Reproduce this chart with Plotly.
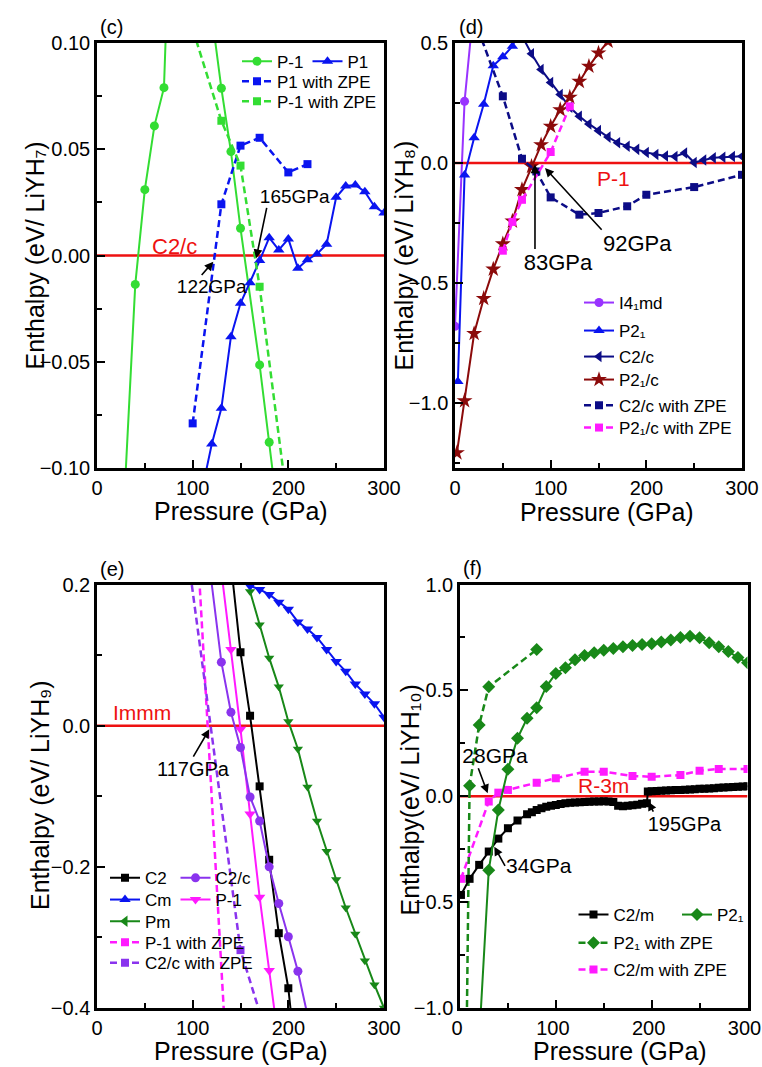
import plotly.graph_objects as go

W, H = 762, 1067
FONT = "Liberation Sans, Arial, sans-serif"

# ---------------- data: (c) LiYH7, enthalpy relative to C2/c ----------------
c_ref_p = [0, 300]
c_ref_h = [0, 0]
c_pm1a_p = [20, 40, 50, 60, 70, 80]
c_pm1a_h = [-0.19, -0.0136, 0.031, 0.061, 0.079, 0.21]
c_pm1b_p = [120, 130, 140, 150, 170, 180, 190]
c_pm1b_h = [0.113, 0.0787, 0.0489, 0.0128, -0.0515, -0.0879, -0.125]
c_p1_p = [110, 120, 130, 140, 150, 160, 170, 180, 190, 200, 210, 220, 230, 240, 250, 260, 270, 280, 290, 300]
c_p1_h = [-0.11, -0.0887, -0.0719, -0.0382, -0.0225, -0.0128, -0.0024, 0.0084, 0.0026, 0.0078,
          -0.006, -0.002, 0.0007, 0.0053, 0.0274, 0.0327, 0.0332, 0.030, 0.023, 0.02]
c_p1zpe_p = [100, 130, 150, 170, 200, 220]
c_p1zpe_h = [-0.079, 0.0241, 0.0517, 0.0554, 0.0391, 0.043]
c_pm1zpe_p = [90, 130, 150, 170, 200]
c_pm1zpe_h = [0.121, 0.0634, 0.0423, -0.0147, -0.12]

# ---------------- data: (d) LiYH8, relative to P-1 ----------------
d_ref_p = [0, 300]
d_ref_h = [0, 0]
d_i41_p = [0, 10, 20]
d_i41_h = [-0.68, 0.257, 0.67]
d_p21_p = [3, 10, 20, 30, 40, 50, 60, 70]
d_p21_h = [-0.91, -0.05, 0.105, 0.245, 0.405, 0.443, 0.486, 0.58]
d_c2c_p = [70, 80, 90, 100, 110, 120, 130, 140, 150, 160, 170, 180, 190, 200, 210, 220, 230, 240,
           250, 260, 270, 280, 290, 300]
d_c2c_h = [0.53, 0.455, 0.39, 0.335, 0.285, 0.232, 0.195, 0.163, 0.135, 0.108, 0.085, 0.07, 0.057,
           0.044, 0.036, 0.029, 0.027, 0.042, 0.002, 0.013, 0.022, 0.024, 0.027, 0.028]
d_p21c_p = [2, 10, 20, 30, 40, 50, 60, 70, 80, 90, 100, 110, 120, 130, 140, 150, 160]
d_p21c_h = [-1.207, -0.99, -0.71, -0.564, -0.442, -0.337, -0.242, -0.111, -0.014, 0.076, 0.153,
            0.222, 0.274, 0.34, 0.403, 0.458, 0.507]
d_c2czpe_p = [20, 50, 70, 85, 100, 130, 150, 180, 200, 250, 300]
d_c2czpe_h = [0.6, 0.278, 0.018, -0.035, -0.143, -0.215, -0.208, -0.18, -0.132, -0.1, -0.049]
d_p21czpe_p = [50, 60, 70, 100, 120]
d_p21czpe_h = [-0.365, -0.245, -0.153, 0.046, 0.236]

# ---------------- data: (e) LiYH9, relative to Immm ----------------
e_ref_p = [0, 300]
e_ref_h = [0, 0]
e_c2_p = [140, 150, 160, 170, 180, 190, 200, 210]
e_c2_h = [0.23, 0.104, 0.014, -0.086, -0.19, -0.294, -0.372, -0.5]
e_c2c_p = [110, 130, 140, 150, 160, 170, 180, 190, 200, 210, 220]
e_c2c_h = [0.31, 0.09, 0.019, -0.031, -0.101, -0.135, -0.2, -0.252, -0.299, -0.348, -0.41]
e_cm_p = [160, 170, 180, 190, 200, 210, 220, 230, 240, 250, 260, 270, 280, 290, 300]
e_cm_h = [0.198, 0.193, 0.186, 0.175, 0.165, 0.147, 0.137, 0.125, 0.108, 0.091, 0.077, 0.059,
          0.045, 0.031, 0.012]
e_pm1_p = [120, 140, 150, 160, 170, 180, 190]
e_pm1_h = [0.33, 0.108, -0.005, -0.125, -0.243, -0.347, -0.45]
e_pm_p = [160, 170, 180, 190, 200, 210, 220, 230, 240, 250, 260, 270, 280, 290, 300]
e_pm_h = [0.19, 0.143, 0.096, 0.055, 0.006, -0.033, -0.087, -0.135, -0.178, -0.218, -0.258,
          -0.295, -0.333, -0.367, -0.40]
e_pm1zpe_p = [101, 134.5]
e_pm1zpe_h = [0.35, -0.45]
e_c2czpe_p = [90, 150, 180]
e_c2czpe_h = [0.292, -0.318, -0.45]

# ---------------- data: (f) LiYH10, relative to R-3m ----------------
f_ref_p = [0, 300]
f_ref_h = [0, 0]
f_c2m_p = [1, 10, 20, 30, 40, 50, 60, 70, 75, 80, 85, 90, 95, 100, 105, 110, 115, 120, 125, 130,
           135, 140, 145, 150, 155, 160, 165, 170, 175, 180, 185, 190, 195,
           196, 200, 205, 210, 215, 220, 225, 230, 235, 240, 245, 250, 255, 260, 265, 270, 275,
           280, 285, 290, 295, 300]
f_c2m_h = [-0.466, -0.39, -0.324, -0.261, -0.2, -0.151, -0.115, -0.085, -0.075, -0.065, -0.057,
           -0.05, -0.045, -0.041, -0.037, -0.033, -0.031, -0.03, -0.028, -0.027, -0.026, -0.025,
           -0.025, -0.024, -0.025, -0.027, -0.045, -0.047, -0.045, -0.043, -0.04, -0.036, -0.033,
           0.022, 0.024, 0.025, 0.026, 0.027, 0.028, 0.029, 0.030, 0.031, 0.032, 0.033, 0.035,
           0.036, 0.037, 0.038, 0.040, 0.041, 0.043, 0.044, 0.045, 0.046, 0.047]
f_p21_p = [20, 30, 40, 50, 60, 70, 80, 90, 100, 110, 120, 130, 140, 150, 160, 170, 180, 190, 200,
           210, 220, 230, 240, 250, 260, 270, 280, 290, 300]
f_p21_h = [-1.15, -0.35, -0.065, 0.128, 0.274, 0.368, 0.418, 0.518, 0.58, 0.607, 0.645, 0.665,
           0.678, 0.69, 0.698, 0.706, 0.712, 0.717, 0.72, 0.728, 0.738, 0.75, 0.756, 0.748, 0.725,
           0.706, 0.684, 0.655, 0.63]
f_p21zpe_p = [0, 10, 20, 30, 80]
f_p21zpe_h = [-3.8, 0.05, 0.336, 0.517, 0.693]
f_c2mzpe_p = [1, 30, 40, 50, 80, 100, 130, 150, 180, 200, 230, 250, 270, 300]
f_c2mzpe_h = [-0.39, -0.025, 0.017, 0.03, 0.064, 0.085, 0.116, 0.116, 0.096, 0.092, 0.1, 0.121,
              0.129, 0.129]

# ---------------- colours ----------------
GREEN_L = "#33dd33"
BLUE = "#0a14f0"
RED = "#ee1111"
VIOLET = "#9933ff"
NAVY = "#0c0c86"
DRED = "#8b0a0a"
MAGENTA = "#ff1aff"
PURPLE = "#8a33ee"
DGREEN = "#188818"
DASH = "7px,4px"

fig = go.Figure()
legends = {}
_leg_count = [0]


def new_legend(px, py, size=17):
    _leg_count[0] += 1
    key = "legend" if _leg_count[0] == 1 else "legend%d" % _leg_count[0]
    legends[key] = dict(x=(px - 20) / W, y=1 - py / H, xanchor="left", yanchor="middle",
                        bgcolor="rgba(0,0,0,0)", borderwidth=0, itemwidth=30,
                        font=dict(family=FONT, size=size, color="black"),
                        itemclick=False, itemdoubleclick=False)
    return key


def add(x, y, color, symbol, size, axes, name=None, dash="solid", lw=2, leg=None,
        mode="lines+markers"):
    fig.add_trace(go.Scatter(
        x=x, y=y, mode=mode, name=name or "",
        line=dict(color=color, width=lw, dash=dash),
        marker=dict(symbol=symbol, size=size, color=color, line=dict(width=0)),
        xaxis=axes[0], yaxis=axes[1],
        showlegend=leg is not None, legend=leg if leg else "legend"))


def add_ref(x, y, axes):
    fig.add_trace(go.Scatter(x=x, y=y, mode="lines", line=dict(color=RED, width=2.5),
                             xaxis=axes[0], yaxis=axes[1], showlegend=False, hoverinfo="skip"))


def legend_only(color, symbol, size, name, leg, dash="solid", lw=2):
    fig.add_trace(go.Scatter(x=[None], y=[None], mode="lines+markers", name=name,
                             line=dict(color=color, width=lw, dash=dash),
                             marker=dict(symbol=symbol, size=size, color=color),
                             xaxis="x", yaxis="y", legend=leg, showlegend=True))


# ---- (c)
AC = ("x", "y")
add_ref(c_ref_p, c_ref_h, AC)
add(c_pm1a_p, c_pm1a_h, GREEN_L, "circle", 9, AC, "P-1", leg=new_legend(257, 61.7))
add(c_pm1b_p, c_pm1b_h, GREEN_L, "circle", 9, AC)
add(c_p1_p, c_p1_h, BLUE, "triangle-up", 10, AC, "P1", leg=new_legend(327.5, 61.7))
add(c_p1zpe_p, c_p1zpe_h, BLUE, "square", 8, AC, "P1 with ZPE", dash=DASH, lw=2.5,
    leg=new_legend(257, 81.7))
add(c_pm1zpe_p, c_pm1zpe_h, GREEN_L, "square", 8, AC, "P-1 with ZPE", dash=DASH, lw=2.5,
    leg=new_legend(257, 101.7))

# ---- (d)
AD = ("x2", "y2")
add_ref(d_ref_p, d_ref_h, AD)
add(d_i41_p, d_i41_h, VIOLET, "circle", 9, AD, "I4₁md", leg=new_legend(599, 303))
add(d_p21_p, d_p21_h, BLUE, "triangle-up", 10, AD, "P2₁", leg=new_legend(599, 331))
add(d_c2c_p, d_c2c_h, NAVY, "triangle-left", 10, AD, "C2/c", leg=new_legend(599, 357))
add(d_p21c_p, d_p21c_h, DRED, "star", 12, AD, "P2₁/c", leg=new_legend(599, 380))
add(d_c2czpe_p, d_c2czpe_h, NAVY, "square", 8, AD, "C2/c with ZPE", dash=DASH, lw=2.5,
    leg=new_legend(599, 405.7))
add(d_p21czpe_p, d_p21czpe_h, MAGENTA, "square", 8, AD, "P2₁/c with ZPE", dash=DASH,
    lw=2.5, leg=new_legend(599, 428))

# ---- (e)
AE = ("x3", "y3")
add_ref(e_ref_p, e_ref_h, AE)
add(e_cm_p, e_cm_h, BLUE, "triangle-down", 10, AE)
add(e_pm_p, e_pm_h, DGREEN, "triangle-down", 9, AE)
add(e_c2_p, e_c2_h, "black", "square", 8, AE, "C2", leg=new_legend(125, 878.3))
add(e_pm1_p, e_pm1_h, MAGENTA, "triangle-down", 10, AE, "P-1", leg=new_legend(195.5, 900))
add(e_c2c_p, e_c2c_h, PURPLE, "circle", 9, AE, "C2/c", leg=new_legend(195.5, 878.3))
legend_only(BLUE, "triangle-up", 10, "Cm", new_legend(125, 900))
legend_only(DGREEN, "triangle-left", 10, "Pm", new_legend(125, 921.7))
add(e_pm1zpe_p, e_pm1zpe_h, MAGENTA, "square", 8, AE, "P-1 with ZPE", dash=DASH, lw=2.5,
    leg=new_legend(125, 942.7))
add(e_c2czpe_p, e_c2czpe_h, PURPLE, "square", 8, AE, "C2/c with ZPE", dash=DASH, lw=2.5,
    leg=new_legend(125, 963.3))

# ---- (f)
AF = ("x4", "y4")
add_ref(f_ref_p, f_ref_h, AF)
add(f_c2mzpe_p, f_c2mzpe_h, MAGENTA, "square", 8, AF, "C2/m with ZPE", dash=DASH, lw=2.5,
    leg=new_legend(593.5, 970))
add(f_p21zpe_p, f_p21zpe_h, DGREEN, "diamond", 10, AF, "P2₁ with ZPE", dash=DASH,
    lw=2.5, leg=new_legend(593.5, 943.3))
add(f_c2m_p, f_c2m_h, "black", "square", 8, AF, "C2/m", leg=new_legend(593.5, 915))
add(f_p21_p, f_p21_h, DGREEN, "diamond", 10, AF, "P2₁", leg=new_legend(697, 915))


# ---------------- axes ----------------
def xax(dom, anchor, shift=0):
    return dict(domain=[dom[0] / W, dom[1] / W], anchor=anchor, range=[0, 300],
                automargin=False, ticklabeloverflow="allow", ticklabelshift=shift,
                showline=True, linecolor="black", linewidth=2.5, mirror=True,
                ticks="inside", ticklen=8, tickwidth=2, tickcolor="black",
                tickmode="linear", tick0=0, dtick=100, showgrid=False, zeroline=False,
                tickfont=dict(family=FONT, size=20, color="black"),
                minor=dict(ticks="inside", ticklen=5, tickwidth=2, tickcolor="black", dtick=50,
                           showgrid=False))


def yax(dom, anchor, rng, dtick, minor, fmt):
    return dict(domain=[1 - dom[1] / H, 1 - dom[0] / H], anchor=anchor, range=rng,
                automargin=False, ticklabeloverflow="allow",
                showline=True, linecolor="black", linewidth=2.5, mirror=True,
                ticks="inside", ticklen=8, tickwidth=2, tickcolor="black",
                tickmode="linear", tick0=0, dtick=dtick, tickformat=fmt,
                showgrid=False, zeroline=False,
                tickfont=dict(family=FONT, size=20, color="black"),
                minor=dict(ticks="inside", ticklen=5, tickwidth=2, tickcolor="black",
                           dtick=minor, showgrid=False))


layout = dict(
    width=W, height=H, margin=dict(l=0, r=0, t=0, b=0, pad=0, autoexpand=False),
    paper_bgcolor="white", plot_bgcolor="white",
    font=dict(family=FONT, color="black"),
    xaxis=xax((97, 384), "y"),
    yaxis=yax((43, 468), "x", [-0.1, 0.1], 0.05, 0.025, ".2f"),
    xaxis2=xax((455, 742), "y2"),
    yaxis2=yax((43, 468), "x2", [-1.27, 0.5], 0.5, 0.25, ".1f"),
    xaxis3=xax((97, 384), "y3"),
    yaxis3=yax((584.5, 1008), "x3", [-0.4, 0.2], 0.2, 0.1, ".1f"),
    xaxis4=xax((460, 747.5), "y4", shift=-3),
    yaxis4=yax((584.5, 1008), "x4", [-1.0, 1.0], 0.5, 0.25, ".1f"),
)
layout.update(legends)

ann = []


def txt(x, y, s, axes, color="black", size=19):
    ann.append(dict(x=x, y=y, xref=axes[0], yref=axes[1], text=s, showarrow=False,
                    font=dict(family=FONT, size=size, color=color), xanchor="center",
                    yanchor="middle"))


def label_arrow(s, tail, tip, axes, size, xanchor="center", yanchor="middle", width=None,
                align="center"):
    """Text box anchored at the arrow tail; arrow runs from the tail to the tip."""
    a = dict(x=tip[0], y=tip[1], ax=tail[0], ay=tail[1], xref=axes[0], yref=axes[1],
             axref=axes[0], ayref=axes[1], text=s, showarrow=True, arrowhead=2, arrowsize=1.1,
             arrowwidth=1.6, arrowcolor="black", standoff=0, startstandoff=0,
             xanchor=xanchor, yanchor=yanchor, align=align, borderpad=0,
             font=dict(family=FONT, size=size, color="black"))
    if width is not None:
        a["width"] = width
    ann.append(a)


def paper_text(px, py, s, size=20, angle=0):
    ann.append(dict(x=px / W, y=1 - py / H, xref="paper", yref="paper", text=s, showarrow=False,
                    font=dict(family=FONT, size=size, color="black"), xanchor="center",
                    yanchor="middle", textangle=angle))


# axis titles
paper_text(240.5, 510.5, "Pressure (GPa)", 25)
paper_text(607, 511.5, "Pressure (GPa)", 25)
paper_text(240.5, 1051, "Pressure (GPa)", 25)
paper_text(620, 1051, "Pressure (GPa)", 25)
paper_text(35, 255.5, "Enthalpy (eV/ LiYH₇)", 25, -90)
paper_text(404, 255.5, "Enthalpy (eV/ LiYH₈)", 25, -90)
paper_text(40, 796, "Enthalpy (eV/ LiYH₉)", 25, -90)
paper_text(409.5, 800, "Enthalpy(eV/ LiYH₁₀)", 25, -90)

# (c)
txt(81.3, 0.0041, "C2/c", AC, RED, 22)
label_arrow("165GPa", (177.4, 0.0224), (166.4, -0.0013), AC, 19,
            xanchor="center", yanchor="bottom", width=127, align="right")
label_arrow("122GPa", (109.4, -0.0092), (121.6, -0.0029), AC, 19,
            xanchor="center", yanchor="top", width=90, align="right")
paper_text(111, 26.5, "(c)")
# (d)
txt(165.6, -0.0625, "P-1", AD, RED, 21)
label_arrow("92GPa", (153.3, -0.278), (94.1, -0.021), AD, 22, xanchor="left", yanchor="top")
label_arrow("83GPa", (83.6, -0.358), (83.6, -0.006), AD, 22,
            xanchor="center", yanchor="top", width=116, align="right")
paper_text(471, 27, "(d)")
# (e)
txt(47.5, 0.018, "Immm", AE, RED, 21)
label_arrow("117GPa", (100.7, -0.0439), (117.4, -0.0051), AE, 20,
            xanchor="center", yanchor="top")
paper_text(112.5, 568.5, "(e)")
# (f)
txt(149.9, 0.05, "R-3m", AF, RED, 21)
label_arrow("28GPa", (19.1, 0.132), (28.9, 0.0139), AF, 21,
            xanchor="center", yanchor="bottom", width=100, align="right")
label_arrow("34GPa", (47.0, -0.329), (35.8, -0.238), AF, 21, xanchor="left", yanchor="middle")
label_arrow("195GPa", (201.7, -0.073), (196.5, -0.0257), AF, 20,
            xanchor="center", yanchor="top", width=137, align="right")
paper_text(472.5, 567.5, "(f)")

layout["annotations"] = ann
fig.update_layout(**layout)
fig.write_html("out.html")
